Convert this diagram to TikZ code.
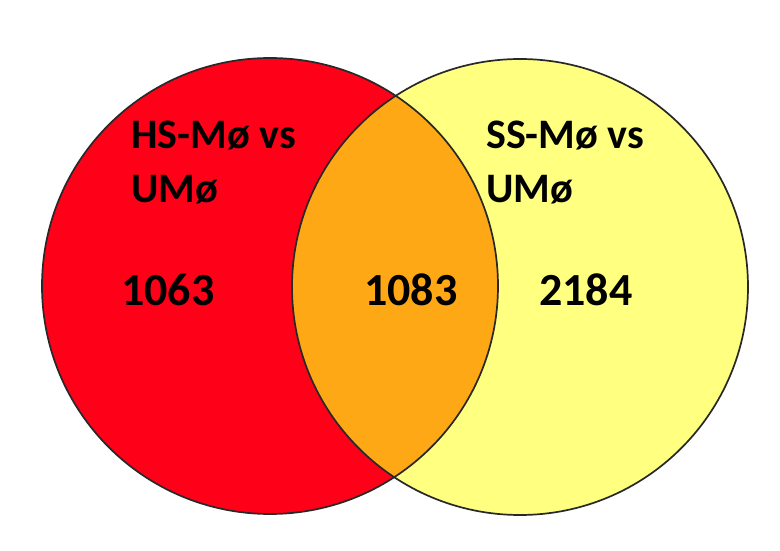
\documentclass[tikz,border=0pt]{standalone}
\usepackage{fontspec}
\setmainfont{Carlito}
\definecolor{vred}{RGB}{255,0,25}
\definecolor{vyellow}{RGB}{255,255,128}
\definecolor{vorange}{RGB}{255,168,22}
\definecolor{vline}{RGB}{40,40,40}
\begin{document}
\begin{tikzpicture}[x=1pt,y=-1pt,
  setlabel/.style={font=\bfseries\fontsize{42}{54}\selectfont, align=left, inner sep=0pt, anchor=base west},
  countlabel/.style={font=\bfseries\fontsize{46}{54}\selectfont, inner sep=0pt, anchor=base west},
  ring/.style={draw=vline, line width=1.7pt}]
\fill[white] (0,0) rectangle (780,551);
\useasboundingbox (0,0) rectangle (780,551);
\coordinate (cl) at (270,286);
\coordinate (cr) at (520,287);
\fill[vred] (cl) circle[radius=228];
\fill[vyellow] (cr) circle[radius=228];
\begin{scope}
  \clip (cl) circle[radius=228];
  \fill[vorange] (cr) circle[radius=228];
\end{scope}
\draw[ring] (cl) circle[radius=228];
\draw[ring] (cr) circle[radius=228];
\node[setlabel] (hs) at (131,202) {HS-Mø vs\\UMø};
\node[setlabel] (ss) at (486,202) {SS-Mø vs\\UMø};
\node[countlabel] (n1) at (121,305) {1063};
\node[countlabel] (n2) at (364,305) {1083};
\node[countlabel] (n3) at (539,305) {2184};
\end{tikzpicture}
\end{document}
